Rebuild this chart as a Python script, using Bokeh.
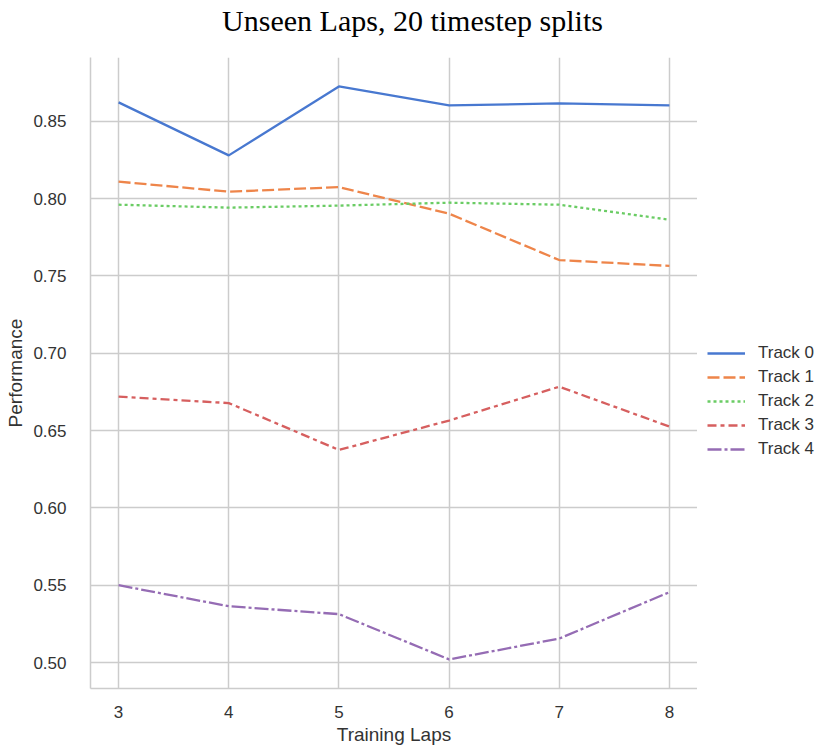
from bokeh.plotting import figure
from bokeh.models import ColumnDataSource, FixedTicker, Range1d, Legend, LegendItem
from bokeh.layouts import column, row
from bokeh.core.properties import value
from bokeh.embed import file_html
from bokeh.resources import INLINE

training_laps = [3, 4, 5, 6, 7, 8]
track_0 = [0.8623, 0.8280, 0.8726, 0.8603, 0.8616, 0.8603]
track_1 = [0.8110, 0.8045, 0.8075, 0.7903, 0.7603, 0.7565]
track_2 = [0.7961, 0.7942, 0.7955, 0.7974, 0.7961, 0.7864]
track_3 = [0.6720, 0.6678, 0.6375, 0.6565, 0.6784, 0.6526]
track_4 = [0.5500, 0.5364, 0.5313, 0.5020, 0.5155, 0.5455]
series_names = ["Track 0", "Track 1", "Track 2", "Track 3", "Track 4"]
y_ticks = [0.50, 0.55, 0.60, 0.65, 0.70, 0.75, 0.80, 0.85]
y_tick_labels = ["0.50", "0.55", "0.60", "0.65", "0.70", "0.75", "0.80", "0.85"]
x_ticks = [3, 4, 5, 6, 7, 8]
title_text = "Unseen Laps, 20 timestep splits"

colors = ["#4878d0", "#ee854a", "#6acc64", "#d65f5f", "#956cb4"]
dashes = ["solid", "12 4", "3 3", "9 4 4 4", "14 3 3 3"]
grid_color = "#cccccc"
text_color = "#333333"

# --- title strip ---
tfig = figure(width=824, height=57, output_backend="svg", toolbar_location=None,
              x_range=Range1d(0, 1), y_range=Range1d(0, 1),
              x_axis_location=None, y_axis_location=None, min_border=0)
tfig.outline_line_color = None
tfig.xgrid.visible = False
tfig.ygrid.visible = False
tfig.text(x=[0.5], y=[0.65], text=[title_text], text_align="center",
          text_baseline="alphabetic", text_font=value("Liberation Serif"),
          text_font_size="30px", text_color="#000000")

# --- main plot ---
p = figure(width=697, height=694, output_backend="svg", toolbar_location=None,
           x_range=Range1d(2.745, 8.255), y_range=Range1d(0.4832, 0.8913))
p.min_border_left = 90
p.min_border_right = 0
p.min_border_top = 0
p.min_border_bottom = 63
p.outline_line_color = None
p.background_fill_color = "white"

sources = []
for ys in [track_0, track_1, track_2, track_3, track_4]:
    sources.append(ColumnDataSource(dict(x=training_laps, y=ys)))

for src, c, d in zip(sources, colors, dashes):
    p.line("x", "y", source=src, line_color=c, line_width=2.3, line_dash=d)

p.xgrid.grid_line_color = grid_color
p.ygrid.grid_line_color = grid_color
p.xgrid.grid_line_width = 1.5
p.ygrid.grid_line_width = 1.5

p.xaxis.ticker = FixedTicker(ticks=x_ticks)
p.yaxis.ticker = FixedTicker(ticks=y_ticks)
p.yaxis.major_label_overrides = {t: l for t, l in zip(y_ticks, y_tick_labels)}

for ax in (p.xaxis[0], p.yaxis[0]):
    ax.axis_line_color = grid_color
    ax.axis_line_width = 1.5
    ax.major_tick_line_color = None
    ax.minor_tick_line_color = None
    ax.major_label_text_font = "Liberation Sans"
    ax.major_label_text_font_size = "17px"
    ax.major_label_text_color = text_color
    ax.axis_label_text_font = "Liberation Sans"
    ax.axis_label_text_font_size = "19px"
    ax.axis_label_text_font_style = "normal"
    ax.axis_label_text_color = text_color

p.xaxis.axis_label = "Training Laps"
p.yaxis.axis_label = "Performance"
p.xaxis.major_label_standoff = 11
p.xaxis.axis_label_standoff = 3
p.yaxis.major_label_standoff = 18
p.yaxis.axis_label_standoff = 4

# --- legend strip (lines kept off-range, only their legend glyphs show) ---
p2 = figure(width=127, height=694, output_backend="svg", toolbar_location=None,
            x_range=Range1d(100, 101), y_range=Range1d(100, 101),
            x_axis_location=None, y_axis_location=None, min_border=0)
p2.outline_line_color = None
p2.xgrid.visible = False
p2.ygrid.visible = False
items = []
for name, src, c, d in zip(series_names, sources, colors, dashes):
    r = p2.line("x", "y", source=src, line_color=c, line_width=2.3, line_dash=d)
    items.append(LegendItem(label=name, renderers=[r]))

lg = Legend(items=items, location=(10, 229))
lg.padding = 0
lg.margin = 0
lg.spacing = 4
lg.glyph_width = 38
lg.glyph_height = 20
lg.label_height = 20
lg.label_standoff = 13
lg.label_text_font = "Liberation Sans"
lg.label_text_font_size = "17px"
lg.label_text_color = text_color
lg.background_fill_alpha = 0
lg.border_line_color = None
p2.add_layout(lg, "center")

layout = column(tfig, row(p, p2, spacing=0), spacing=0)

open("out.html", "w").write(file_html(layout, INLINE))
